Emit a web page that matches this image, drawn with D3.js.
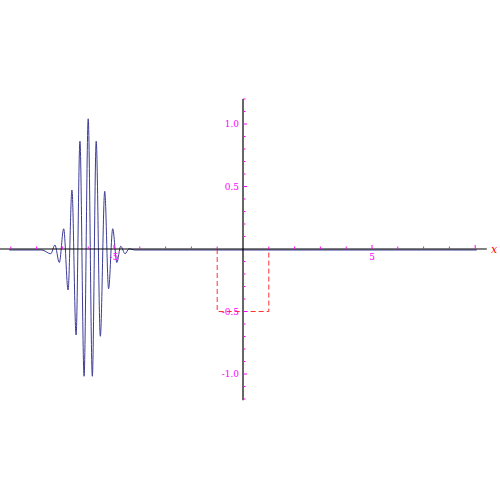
<!DOCTYPE html>
<html>
<head>
<meta charset="utf-8">
<script src="https://cdn.jsdelivr.net/npm/d3@7"></script>
<style>
  body { margin: 0; background: #fff; }
  text { font-family: "DejaVu Serif", serif; }
</style>
</head>
<body>
<svg id="chart" width="500" height="500"></svg>
<script>
// wave packet extrema
const waveX = [-9.06, -7.8, -7.45, -7.29, -7.12, -6.95, -6.78, -6.63, -6.47, -6.32, -6.16, -6.0,
  -5.84, -5.69, -5.53, -5.36, -5.21, -5.05, -4.89, -4.74, -4.57, -4.42, -4.2, 9.06];
const waveY = [0, 0, -0.03, 0.04, -0.1, 0.17, -0.32, 0.48, -0.68, 0.87, -1.01, 1.05,
  -1.01, 0.87, -0.69, 0.47, -0.31, 0.17, -0.1, 0.03, -0.03, 0.01, 0, 0];
// dashed box
const boxX = [-1, -1, 1, 1];
const boxY = [0, -0.5, -0.5, 0];
const xTickLabels = [-5, 5];
const yTickLabels = [-1.0, -0.5, 0.5, 1.0];

const svg = d3.select('#chart');
const x = d3.scaleLinear().domain([0, 5]).range([243, 372]);
const y = d3.scaleLinear().domain([0, 1]).range([249, 124]);
const magenta = '#ff00ff';

// curve
const wave = waveX.map((d, i) => [d, waveY[i]]);
svg.append('path')
  .datum(wave)
  .attr('fill', 'none')
  .attr('stroke', '#3c3c96')
  .attr('stroke-width', 1)
  .attr('transform', 'translate(0,1)')
  .attr('d', d3.line().x(d => x(d[0])).y(d => y(d[1])).curve(d3.curveMonotoneX));

// box
const box = boxX.map((d, i) => [d, boxY[i]]);
svg.append('path')
  .datum(box)
  .attr('fill', 'none')
  .attr('stroke', '#ff3030')
  .attr('stroke-width', 1)
  .attr('stroke-dasharray', '5,3')
  .attr('d', d3.line().x(d => x(d[0])).y(d => y(d[1])));

// x axis
svg.append('line').attr('x1', x(-9.45)).attr('x2', x(9.45)).attr('y1', y(0)).attr('y2', y(0))
  .attr('stroke', '#000').attr('stroke-width', 1.2);
d3.range(-9, 10).filter(d => d !== 0).forEach(d => {
  const big = d === 5 || d === -5 || d === 9;
  svg.append('line').attr('x1', x(d)).attr('x2', x(d))
    .attr('y1', y(0)).attr('y2', y(0) - (big ? 4 : 2.5))
    .attr('stroke', magenta).attr('stroke-width', 1);
});
xTickLabels.forEach(d => {
  svg.append('text').attr('x', x(d)).attr('y', y(0) + 11)
    .attr('text-anchor', 'middle').attr('font-size', 9).attr('fill', magenta).text(d);
});
svg.append('text').attr('x', 494).attr('y', 253).attr('text-anchor', 'middle')
  .attr('font-size', 11).attr('font-style', 'italic').attr('fill', '#ff0000').text('x');

// y axis
svg.append('line').attr('x1', x(0)).attr('x2', x(0)).attr('y1', y(1.2)).attr('y2', y(-1.21))
  .attr('stroke', '#000').attr('stroke-width', 1.2);
d3.range(-12, 13).filter(d => d !== 0).forEach(d => {
  const v = d / 10;
  const big = d % 5 === 0;
  svg.append('line').attr('x1', x(0)).attr('x2', x(0) + (big ? 4 : 2.5))
    .attr('y1', y(v)).attr('y2', y(v))
    .attr('stroke', magenta).attr('stroke-width', 1);
});
yTickLabels.forEach(d => {
  svg.append('text').attr('x', x(0) - 4).attr('y', y(d) + 3)
    .attr('text-anchor', 'end').attr('font-size', 9).attr('fill', magenta).text(d.toFixed(1));
});
</script>
</body>
</html>
